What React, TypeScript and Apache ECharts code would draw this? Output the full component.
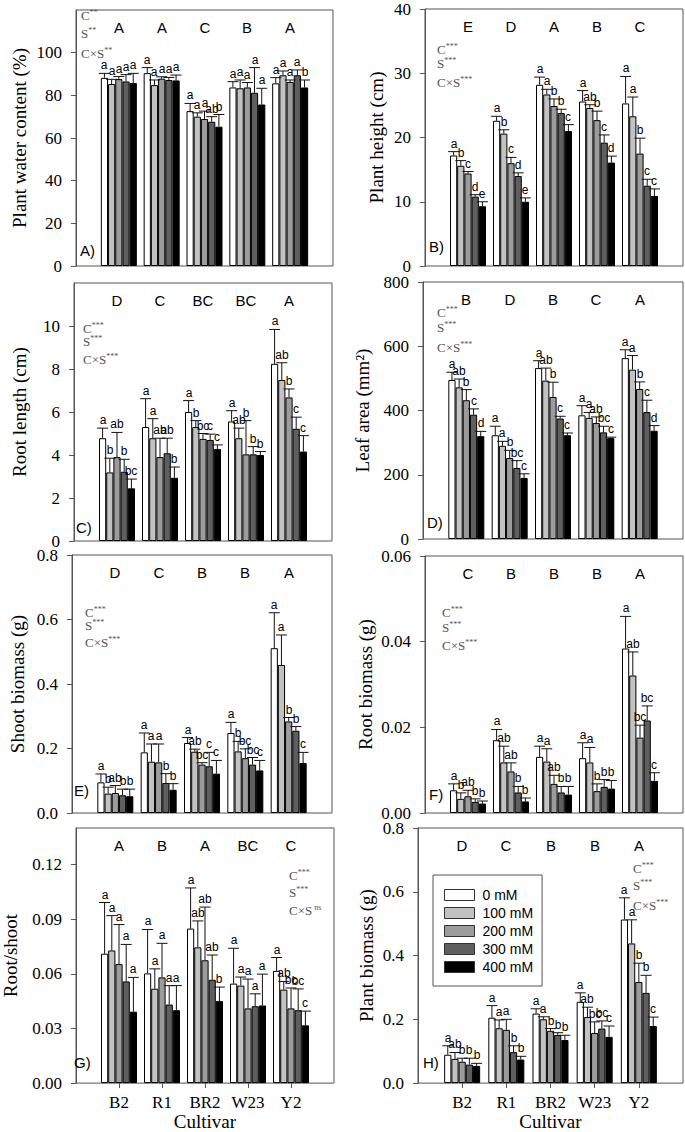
import React, { useEffect, useRef } from "react";
import * as echarts from "echarts";

const SERIF = "'Liberation Serif', 'Times New Roman', serif";
const SANS = "'Liberation Sans', Arial, sans-serif";

const cultivars = ["B2", "R1", "BR2", "W23", "Y2"];
const categories = ["", ...cultivars, ""];
const salts = ["0 mM", "100 mM", "200 mM", "300 mM", "400 mM"];
const saltColors = ["#ffffff", "#c2c2c2", "#9c9c9c", "#5f5f5f", "#000000"];

// rows = cultivar (B2, R1, BR2, W23, Y2), columns = salt level (0..400 mM)
// A) Plant water content (%)
const waterMean = [
  [88.2, 85.3, 87.6, 86.5, 85.8],
  [90.4, 84.8, 87.8, 87.2, 87.0],
  [72.6, 70.0, 68.9, 67.6, 65.3],
  [83.7, 83.3, 83.7, 81.2, 75.7],
  [85.6, 89.4, 86.3, 89.4, 83.7],
];
const waterErr = [
  [2.1, 2.2, 1.2, 3.2, 4.5],
  [2.6, 2.4, 0.9, 1.2, 2.5],
  [3.6, 1.8, 3.7, 2.4, 5.7],
  [2.7, 3.9, 2.3, 11.8, 7.6],
  [2.7, 2.0, 0.9, 2.5, 3.5],
];
const waterSig = ["a a a a a", "a a a a a", "a a a ab b", "a a a a a", "a a a a b"];
const waterGroups = ["A", "A", "C", "B", "A"];

// B) Plant height (cm)
const heightMean = [
  [17.2, 15.6, 14.4, 10.8, 9.3],
  [22.6, 20.6, 16.0, 14.0, 10.0],
  [28.2, 26.7, 24.9, 23.8, 21.0],
  [25.6, 24.6, 22.7, 19.2, 16.1],
  [25.3, 23.3, 17.5, 12.5, 10.9],
];
const heightErr = [
  [0.6, 0.8, 0.3, 0.3, 0.7],
  [0.7, 0.6, 0.9, 0.5, 0.6],
  [1.2, 0.8, 1.1, 0.6, 1.0],
  [1.7, 0.5, 1.4, 1.2, 1.0],
  [4.2, 3.0, 2.4, 1.0, 1.1],
];
const heightSig = ["a b c d e", "a b c d e", "a a b b c", "a ab b c d", "a a b c c"];
const heightGroups = ["E", "D", "A", "B", "C"];

// C) Root length (cm)
const rootLenMean = [
  [4.78, 3.19, 3.9, 3.22, 2.45],
  [5.3, 4.78, 3.9, 4.08, 2.94],
  [6.0, 5.3, 4.75, 4.7, 4.28],
  [5.56, 4.78, 4.03, 4.03, 4.0],
  [8.24, 7.49, 6.68, 5.22, 4.16],
];
const rootLenErr = [
  [0.47, 0.66, 1.15, 0.58, 0.43],
  [1.32, 0.91, 0.88, 0.7, 0.5],
  [0.53, 0.3, 0.25, 0.27, 0.19],
  [0.5, 0.47, 1.57, 0.36, 0.16],
  [1.6, 0.8, 0.39, 0.54, 0.74],
];
const rootLenSig = ["a b ab b bc", "a a ab ab b", "a b bc c c", "a ab b b b", "a ab b c c"];
const rootLenGroups = ["D", "C", "BC", "BC", "A"];

// D) Leaf area (mm2)
const leafMean = [
  [495, 472, 432, 387, 320],
  [323, 290, 252, 221, 190],
  [532, 493, 442, 375, 323],
  [385, 377, 361, 332, 314],
  [563, 527, 467, 395, 337],
];
const leafErr = [
  [24, 26, 33, 18, 15],
  [28, 14, 24, 23, 13],
  [23, 39, 46, 7, 7],
  [30, 17, 19, 19, 3],
  [26, 44, 22, 37, 16],
];
const leafSig = ["a ab b c d", "a a b bc c", "a ab b c c", "a a ab bc c", "a a b c d"];
const leafGroups = ["B", "D", "B", "C", "A"];

// E) Shoot biomass (g)
const shootMean = [
  [0.095, 0.06, 0.062, 0.055, 0.052],
  [0.188, 0.159, 0.157, 0.093, 0.072],
  [0.217, 0.19, 0.15, 0.145, 0.122],
  [0.248, 0.191, 0.17, 0.15, 0.132],
  [0.511, 0.459, 0.284, 0.255, 0.155],
];
const shootErr = [
  [0.026, 0.02, 0.023, 0.019, 0.022],
  [0.06, 0.055, 0.057, 0.029, 0.019],
  [0.017, 0.008, 0.006, 0.043, 0.041],
  [0.033, 0.031, 0.029, 0.022, 0.031],
  [0.11, 0.093, 0.012, 0.013, 0.033],
];
const shootSig = ["a b ab b b", "a a a b b", "a ab bc c c", "a b bc bc c", "a a b b c"];
const shootGroups = ["D", "C", "B", "B", "A"];

// F) Root biomass (g)
const rootMassMean = [
  [0.0053, 0.0033, 0.0039, 0.0026, 0.0022],
  [0.017, 0.0118, 0.0097, 0.0048, 0.0027],
  [0.0131, 0.012, 0.0068, 0.0048, 0.0043],
  [0.0128, 0.0118, 0.0051, 0.0061, 0.0057],
  [0.0384, 0.0321, 0.0176, 0.0216, 0.0075],
];
const rootMassErr = [
  [0.0015, 0.0014, 0.0014, 0.0007, 0.0006],
  [0.0025, 0.0038, 0.002, 0.0014, 0.0008],
  [0.0025, 0.003, 0.002, 0.0014, 0.0019],
  [0.0036, 0.0035, 0.0017, 0.0017, 0.0019],
  [0.0075, 0.0055, 0.0029, 0.0034, 0.0019],
];
const rootMassSig = ["a b ab b b", "a ab ab b b", "a a ab b b", "a a b b b", "a ab bc bc c"];
const rootMassGroups = ["C", "B", "B", "B", "A"];

// G) Root/shoot
const ratioMean = [
  [0.071, 0.0728, 0.0653, 0.0558, 0.0392],
  [0.0602, 0.0518, 0.058, 0.0431, 0.04],
  [0.0848, 0.0745, 0.0674, 0.0567, 0.045],
  [0.0546, 0.0535, 0.041, 0.0422, 0.0426],
  [0.0616, 0.0513, 0.041, 0.04, 0.0317],
];
const ratioErr = [
  [0.0281, 0.0191, 0.0217, 0.0203, 0.0188],
  [0.0241, 0.0109, 0.0187, 0.0104, 0.0135],
  [0.0223, 0.0145, 0.0292, 0.0136, 0.0077],
  [0.0194, 0.0047, 0.0161, 0.0068, 0.0172],
  [0.0073, 0.0045, 0.0112, 0.0117, 0.0078],
];
const ratioSig = ["a a a a a", "a a a a a", "a ab ab ab b", "a a a a a", "a ab bc bc c"];
const ratioGroups = ["A", "B", "A", "BC", "C"];

// H) Plant biomass (g)
const plantMean = [
  [0.089, 0.076, 0.067, 0.058, 0.054],
  [0.205, 0.172, 0.167, 0.097, 0.074],
  [0.218, 0.2, 0.164, 0.151, 0.135],
  [0.255, 0.207, 0.157, 0.171, 0.145],
  [0.513, 0.438, 0.317, 0.283, 0.179],
];
const plantErr = [
  [0.028, 0.02, 0.011, 0.02, 0.008],
  [0.038, 0.026, 0.033, 0.02, 0.01],
  [0.015, 0.008, 0.007, 0.007, 0.015],
  [0.028, 0.031, 0.035, 0.024, 0.034],
  [0.068, 0.074, 0.059, 0.055, 0.028],
];
const plantSig = ["a ab b b b", "a a a b b", "a a b b b", "a ab bc bc c", "a a b b c"];
const plantGroups = ["D", "C", "B", "B", "A"];

const statMain = ["C", "S", "C×S"];

const panels = [
  { tag: "A)", name: "Plant water content (%)", mean: waterMean, err: waterErr, sig: waterSig, groups: waterGroups,
    max: 120, interval: 20, dec: 0, hideMax: true, grid: { left: 76, top: 10, width: 257, height: 256 }, nameGap: 47,
    stat: { x: 81, ys: [15, 33, 53], sup: ["**", "**", "**"] }, label: [80, 250], xLabels: false },
  { tag: "B)", name: "Plant height (cm)", mean: heightMean, err: heightErr, sig: heightSig, groups: heightGroups,
    max: 40, interval: 10, dec: 0, hideMax: false, grid: { left: 425, top: 9, width: 258, height: 257 }, nameGap: 39,
    stat: { x: 437, ys: [49, 63, 82], sup: ["***", "***", "***"] }, label: [429, 246], xLabels: false },
  { tag: "C)", name: "Root length (cm)", mean: rootLenMean, err: rootLenErr, sig: rootLenSig, groups: rootLenGroups,
    max: 12, interval: 2, dec: 0, hideMax: true, grid: { left: 74, top: 283, width: 258, height: 258 }, nameGap: 45,
    stat: { x: 83, ys: [328, 341, 359], sup: ["***", "***", "***"] }, label: [76, 527], xLabels: false },
  { tag: "D)", name: "Leaf area (mm²)", mean: leafMean, err: leafErr, sig: leafSig, groups: leafGroups,
    max: 800, interval: 200, dec: 0, hideMax: false, grid: { left: 423, top: 282, width: 260, height: 257 }, nameGap: 51,
    stat: { x: 437, ys: [312, 327, 347], sup: ["***", "***", "***"] }, label: [427, 522], xLabels: false },
  { tag: "E)", name: "Shoot biomass (g)", mean: shootMean, err: shootErr, sig: shootSig, groups: shootGroups,
    max: 0.8, interval: 0.2, dec: 1, hideMax: false, grid: { left: 72, top: 555, width: 260, height: 258 }, nameGap: 45,
    stat: { x: 85, ys: [612, 625, 642], sup: ["***", "***", "***"] }, label: [74, 790], xLabels: false },
  { tag: "F)", name: "Root biomass (g)", mean: rootMassMean, err: rootMassErr, sig: rootMassSig, groups: rootMassGroups,
    max: 0.06, interval: 0.02, dec: 2, hideMax: false, grid: { left: 425, top: 556, width: 258, height: 257 }, nameGap: 50,
    stat: { x: 442, ys: [612, 627, 645], sup: ["***", "***", "***"] }, label: [429, 794], xLabels: false },
  { tag: "G)", name: "Root/shoot", mean: ratioMean, err: ratioErr, sig: ratioSig, groups: ratioGroups,
    max: 0.14, interval: 0.03, dec: 2, hideMax: true, grid: { left: 74, top: 828, width: 260, height: 256 }, nameGap: 56,
    stat: { x: 289, ys: [875, 892, 910], sup: ["***", "***", " ns"] }, label: [74, 1062], xLabels: true },
  { tag: "H)", name: "Plant biomass (g)", mean: plantMean, err: plantErr, sig: plantSig, groups: plantGroups,
    max: 0.8, interval: 0.2, dec: 1, hideMax: false, grid: { left: 418, top: 828, width: 265, height: 256 }, nameGap: 42,
    stat: { x: 633, ys: [868, 885, 905], sup: ["***", "***", "***"] }, label: [423, 1062], xLabels: true },
];

const BW = 7.2;

function buildOption() {
  const grid: any[] = [];
  const xAxis: any[] = [];
  const yAxis: any[] = [];
  const series: any[] = [];
  const graphic: any[] = [];
  const labelInterval = (idx: number) => idx >= 1 && idx <= 5;

  panels.forEach((p, i) => {
    grid.push({ ...p.grid, show: true, borderColor: "#555", borderWidth: 1, backgroundColor: "transparent" });
    xAxis.push({
      type: "category", gridIndex: i, data: categories, boundaryGap: false,
      axisLine: { show: false },
      axisTick: { show: p.xLabels, interval: labelInterval, length: 5, inside: false, lineStyle: { color: "#555" } },
      axisLabel: { show: p.xLabels, interval: labelInterval, fontFamily: SERIF, fontSize: 17, color: "#000", margin: 11 },
      splitLine: { show: false },
      name: p.xLabels ? "Cultivar" : "", nameLocation: "middle", nameGap: 28,
      nameTextStyle: { fontFamily: SERIF, fontSize: 19, color: "#000" },
    });
    yAxis.push({
      type: "value", gridIndex: i, min: 0, max: p.max, interval: p.interval,
      axisLine: { show: true, lineStyle: { color: "#555" } },
      axisTick: { show: true, length: 5, inside: false, lineStyle: { color: "#555" } },
      axisLabel: {
        fontFamily: SERIF, fontSize: 17, color: "#000", margin: 14,
        showMaxLabel: !p.hideMax, showMinLabel: true,
        formatter: (v: number) => v.toFixed(p.dec),
      },
      splitLine: { show: false },
      name: p.name, nameLocation: "middle", nameGap: p.nameGap,
      nameTextStyle: { fontFamily: SERIF, fontSize: 19, color: "#000" },
    });

    salts.forEach((s, k) => {
      series.push({
        type: "bar", name: s, xAxisIndex: i, yAxisIndex: i, barWidth: BW, barGap: "0%",
        data: ["-", ...p.mean.map((row) => row[k]), "-"],
        itemStyle: { color: saltColors[k], borderColor: "#000", borderWidth: 1 },
        silent: true, z: 2,
      });
    });

    const sig = p.sig.map((r) => r.split(" "));
    const errData: number[][] = [];
    p.mean.forEach((row, c) => row.forEach((m, k) => errData.push([c + 1, k, m, p.err[c][k]])));
    series.push({
      type: "custom", xAxisIndex: i, yAxisIndex: i, z: 4, silent: true,
      encode: { x: 0, y: 2 },
      data: errData,
      renderItem: (params: any, api: any) => {
        const c = api.value(0), k = api.value(1), m = api.value(2), e = api.value(3);
        const base = api.coord([c, m]);
        const top = api.coord([c, m + e]);
        const x = base[0] + (k - 2) * BW;
        const letter = sig[c - 1][k];
        return {
          type: "group",
          children: [
            { type: "line", shape: { x1: x, y1: base[1], x2: x, y2: top[1] }, style: { stroke: "#111", lineWidth: 1 } },
            { type: "line", shape: { x1: x - 5.5, y1: top[1], x2: x + 5.5, y2: top[1] }, style: { stroke: "#111", lineWidth: 1 } },
            { type: "text", x: Math.round(x), y: Math.round(top[1] - 2),
              style: { text: letter, fontFamily: SANS, fontSize: 12, fill: "#000", align: "center", verticalAlign: "bottom" } },
          ],
        };
      },
    });

    series.push({
      type: "custom", xAxisIndex: i, yAxisIndex: i, z: 4, silent: true,
      encode: { x: 0, y: 1 },
      data: p.groups.map((g, c) => [c + 1, p.max]),
      renderItem: (params: any, api: any) => {
        const c = api.value(0);
        const pt = api.coord([c, api.value(1)]);
        return {
          type: "text", x: Math.round(pt[0]), y: Math.round(pt[1] + 17),
          style: { text: p.groups[c - 1], fontFamily: SANS, fontSize: 15, fill: "#000", align: "center", verticalAlign: "middle" },
        };
      },
    });

    statMain.forEach((t, j) => {
      graphic.push({
        type: "text", x: p.stat.x, y: p.stat.ys[j], z: 10, silent: true,
        style: {
          text: `{m|${t}}{s|${p.stat.sup[j]}}`,
          verticalAlign: "middle", align: "left",
          rich: {
            m: { fontFamily: SERIF, fontSize: 13, fill: "#555", lineHeight: 13 },
            s: { fontFamily: SERIF, fontSize: 8, fill: "#555", lineHeight: 8, verticalAlign: "top" },
          },
        },
      });
    });

    graphic.push({
      type: "text", x: p.label[0], y: p.label[1], z: 10, silent: true,
      style: { text: p.tag, fontFamily: SANS, fontSize: 15, fill: "#000", verticalAlign: "middle", align: "left" },
    });
  });

  return {
    animation: false,
    backgroundColor: "#fff",
    grid, xAxis, yAxis, series, graphic,
    legend: {
      data: salts, left: 433, top: 875, orient: "vertical",
      itemWidth: 30, itemHeight: 11, itemGap: 4, padding: [13, 9, 12, 11],
      borderColor: "#555", borderWidth: 1, backgroundColor: "#fff",
      icon: "rect", selectedMode: false,
      itemStyle: { borderColor: "#333", borderWidth: 1 },
      textStyle: { fontFamily: SANS, fontSize: 14, color: "#000", padding: [0, 0, 0, 3] },
    },
  };
}

export default function App() {
  const ref = useRef<HTMLDivElement>(null);
  useEffect(() => {
    if (!ref.current) return;
    const chart = echarts.init(ref.current, undefined, { renderer: "svg" });
    chart.setOption(buildOption() as any);
    return () => chart.dispose();
  }, []);
  return <div ref={ref} style={{ position: "fixed", left: 0, top: 0, width: 685, height: 1132, background: "#fff" }} />;
}
